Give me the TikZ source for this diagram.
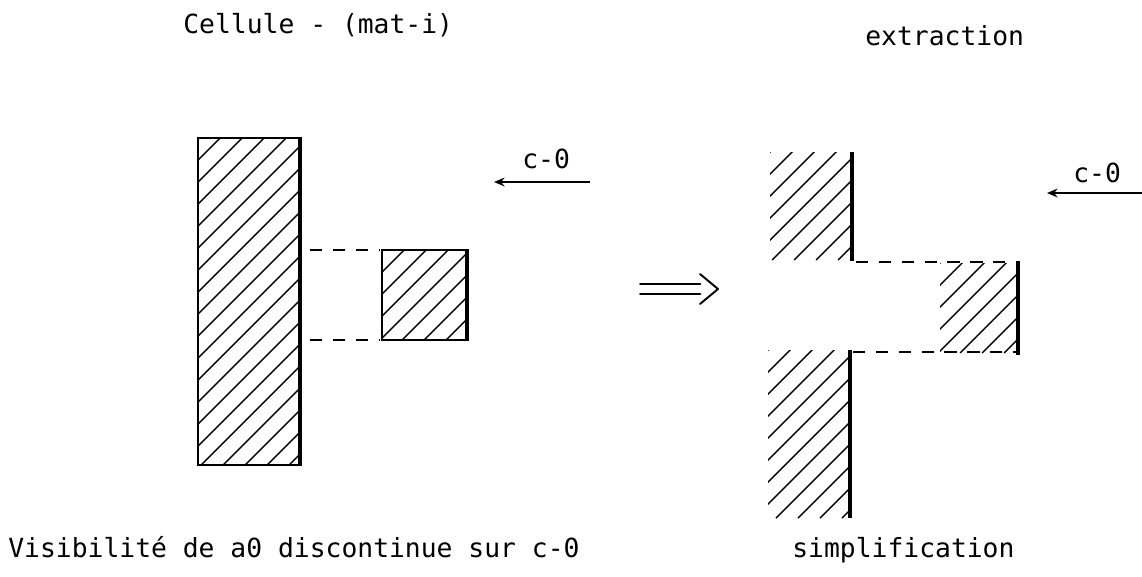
\documentclass[tikz,border=0pt]{standalone}
\usepackage{fontspec}
\setmainfont{DejaVu Sans Mono}
\usetikzlibrary{arrows.meta}

\tikzset{
  txt/.style={font=\fontsize{15}{18}\selectfont, inner sep=0pt},
  outline/.style={line width=1.1pt},
  thickedge/.style={line width=2.4pt},
  hatchline/.style={line width=0.8pt},
  gap/.style={line width=0.9pt, dash pattern=on 7pt off 6pt},
  viewdir/.style={-{Stealth[length=6pt,width=5pt]}, line width=1.1pt},
  implies/.style={line width=1.1pt, line cap=round, line join=round},
}

% hatched area: x1 y1 x2 y2 (pixel units, y down)
\newcommand{\hatchbox}[4]{%
  \begin{scope}
    \clip (#1,#2) rectangle (#3,#4);
    \pgfmathsetmacro\hfirst{#1-(#4-#2)}
    \pgfmathsetmacro\hsecond{\hfirst+22}
    \foreach \a in {\hfirst,\hsecond,...,#3}
      \draw[hatchline] (\a,#4) -- ++(#4-#2+30,-#4+#2-30);
  \end{scope}}

\begin{document}
\begin{tikzpicture}[x=0.02cm, y=-0.02cm]
    \useasboundingbox (0,0) rectangle (1142,576);

    % titles
    \node[txt, anchor=base west] (titleleft) at (183,33) {Cellule - (mat-i)};
    \node[txt, anchor=base west] (titleright) at (865,45) {extraction};
    \node[txt, anchor=base west] (captionleft) at (8,557) {Visibilité de a0 discontinue sur c-0};
    \node[txt, anchor=base west] (captionright) at (792,557) {simplification};

    % left: cellule and obstacle
    \hatchbox{198}{138}{300}{465}
    \draw[outline] (300,138) -- (198,138) -- (198,465) -- (300,465);
    \draw[thickedge] (300,137) -- (300,466);
    \hatchbox{382}{250}{467}{340}
    \draw[outline] (467,250) -- (382,250) -- (382,340) -- (467,340);
    \draw[thickedge] (467,249) -- (467,341);

    \coordinate (celltop) at (310,250);
    \coordinate (cellbot) at (310,340);
    \coordinate (obsttop) at (380,250);
    \coordinate (obstbot) at (380,340);
    \draw[gap] (celltop) -- (obsttop);
    \draw[gap] (cellbot) -- (obstbot);

    % view direction (left)
    \coordinate (viewfromL) at (590,182);
    \coordinate (viewtoL) at (494,182);
    \draw[viewdir] (viewfromL) -- (viewtoL);
    \node[txt, anchor=base west] (labelL) at (522,168) {c-0};

    % implies
    \coordinate (impfrom) at (640,289);
    \coordinate (impto) at (718,289);
    \draw[implies] ([yshift=2.6pt]impfrom) -- ([xshift=-10pt,yshift=2.6pt]impto);
    \draw[implies] ([yshift=-2.6pt]impfrom) -- ([xshift=-10pt,yshift=-2.6pt]impto);
    \draw[implies] (impto) ++(-18,-15) -- (impto) -- ++(-18,15);

    % right: extracted parts
    \hatchbox{770}{152}{852}{260}
    \draw[thickedge] (852,152) -- (852,261);
    \hatchbox{768}{350}{850}{518}
    \draw[thickedge] (850,350) -- (850,518);
    \hatchbox{940}{263}{1018}{353}
    \draw[thickedge] (1018,261) -- (1018,355);

    \coordinate (parttop) at (856,262);
    \coordinate (partbot) at (853,352);
    \coordinate (piecetop) at (1016,262);
    \coordinate (piecebot) at (1016,352);
    \draw[gap] (parttop) -- (piecetop);
    \draw[gap] (partbot) -- (piecebot);

    % view direction (right)
    \coordinate (viewfromR) at (1142,193);
    \coordinate (viewtoR) at (1047,193);
    \draw[viewdir] (viewfromR) -- (viewtoR);
    \node[txt, anchor=base west] (labelR) at (1073,182) {c-0};
\end{tikzpicture}
\end{document}
